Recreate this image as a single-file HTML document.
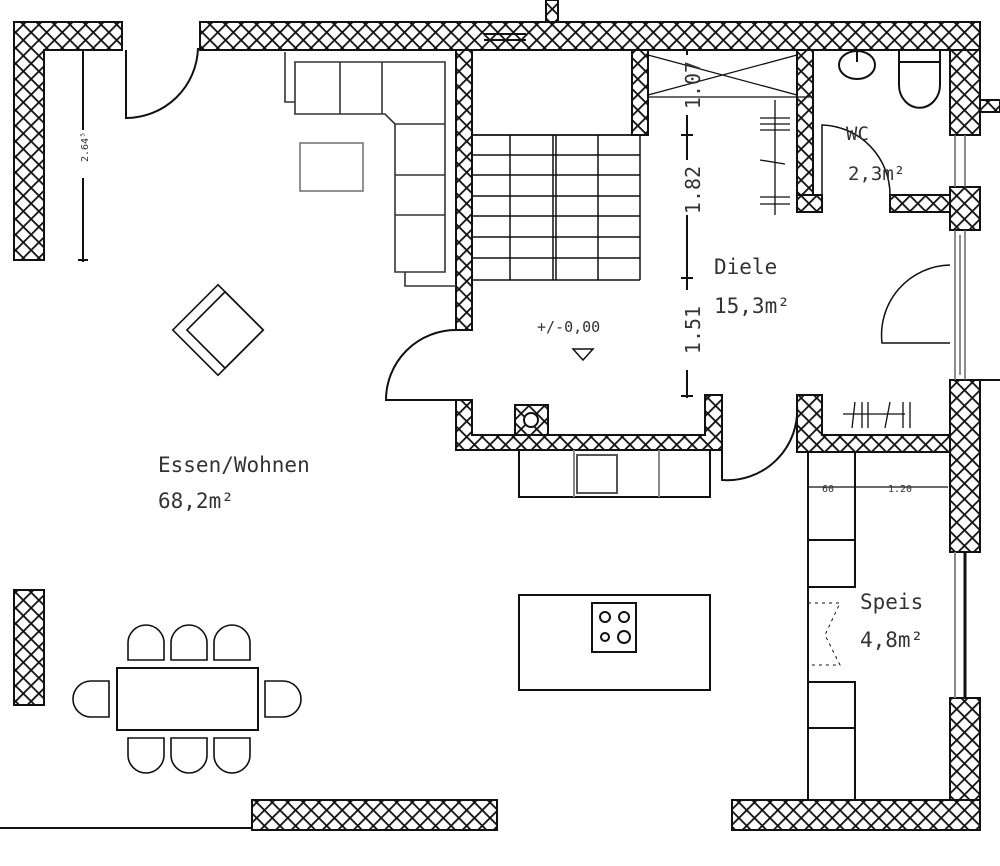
<!DOCTYPE html>
<html><head><meta charset="utf-8"><style>
html,body{margin:0;padding:0;background:#fff;}
svg{display:block}
text{font-family:"DejaVu Sans Mono","Liberation Mono",monospace;fill:#333}
</style></head><body>
<svg width="1000" height="866" viewBox="0 0 1000 866" xmlns="http://www.w3.org/2000/svg">
<defs>
<pattern id="h" width="11" height="11" patternUnits="userSpaceOnUse" patternTransform="rotate(45)">
<rect width="11" height="11" fill="#fff"/>
<rect x="0" y="0" width="1.8" height="11" fill="#111"/>
<rect x="0" y="0" width="11" height="1.8" fill="#111"/>
</pattern>
</defs>
<g fill="url(#h)" stroke="#111" stroke-width="2">
<path d="M14 22 H122 V50 H44 V260 H14 Z"/>
<rect x="200" y="22" width="780" height="28"/>
<rect x="546" y="0" width="12" height="22"/>
<rect x="456" y="50" width="16" height="280"/>
<rect x="632" y="50" width="16" height="85"/>
<rect x="797" y="50" width="16" height="162"/>
<rect x="797" y="195" width="25" height="17"/>
<rect x="890" y="195" width="60" height="17"/>
<rect x="950" y="50" width="30" height="85"/>
<rect x="950" y="187" width="30" height="43"/>
<rect x="950" y="380" width="30" height="172"/>
<rect x="950" y="698" width="30" height="132"/>
<rect x="980" y="100" width="20" height="12"/>
<path d="M456 400 H472 V435 H705 V395 H722 V450 H456 Z"/>
<rect x="515" y="405" width="33" height="30"/>
<path d="M797 395 H822 V435 H950 V452 H808 V452 H797 Z"/>
<rect x="252" y="800" width="245" height="30"/>
<rect x="732" y="800" width="248" height="30"/>
<rect x="14" y="590" width="30" height="115"/>
</g>
<circle cx="531" cy="420" r="7" fill="#fff" stroke="#111" stroke-width="2"/>
<g fill="none" stroke="#111" stroke-width="2">
<line x1="484" y1="34" x2="526" y2="34"/><line x1="484" y1="40" x2="526" y2="40"/>
<path d="M126 50 V118 A72 72 0 0 0 198 48"/>
<line x1="83" y1="50" x2="83" y2="130"/><line x1="83" y1="178" x2="83" y2="262"/>
<line x1="78" y1="260" x2="88" y2="260"/>
<g stroke="#333" stroke-width="1.6">
<path d="M285 52 V102 H295 V114 H385 L395 124 V272 H445 V62 H295 V102"/>
<line x1="340" y1="62" x2="340" y2="114"/><line x1="382" y1="62" x2="382" y2="114"/>
<line x1="395" y1="124" x2="445" y2="124"/><line x1="395" y1="175" x2="445" y2="175"/><line x1="395" y1="215" x2="445" y2="215"/>
<path d="M405 272 V286 H456"/>
<rect x="300" y="143" width="63" height="48" stroke="#777"/>
</g>
<g transform="translate(218 330) rotate(45)" stroke-width="1.6">
<rect x="-32" y="-32" width="64" height="64"/>
<rect x="-22" y="-32" width="54" height="54"/>
</g>
<rect x="472" y="50" width="160" height="85" stroke-width="1.5"/>
<g stroke-width="1.5">
<line x1="472" y1="135" x2="640" y2="135"/>
<line x1="472" y1="155" x2="640" y2="155"/><line x1="472" y1="175" x2="640" y2="175"/>
<line x1="472" y1="196" x2="640" y2="196"/><line x1="472" y1="216" x2="640" y2="216"/>
<line x1="472" y1="237" x2="640" y2="237"/><line x1="472" y1="258" x2="640" y2="258"/>
<line x1="472" y1="280" x2="640" y2="280"/>
<line x1="640" y1="135" x2="640" y2="280"/>
<line x1="510" y1="135" x2="510" y2="280"/>
<line x1="553" y1="135" x2="553" y2="280"/><line x1="556" y1="135" x2="556" y2="280"/>
<line x1="598" y1="135" x2="598" y2="280"/>
</g>
<path d="M456 330 A70 70 0 0 0 386 400 H456"/>
<g stroke-width="1.3">
<line x1="648" y1="55" x2="797" y2="95"/><line x1="648" y1="95" x2="797" y2="55"/>
<line x1="648" y1="97" x2="810" y2="97"/>
<line x1="775" y1="100" x2="775" y2="215"/>
<line x1="760" y1="118" x2="790" y2="118"/><line x1="760" y1="124" x2="790" y2="124"/><line x1="760" y1="130" x2="790" y2="130"/>
<line x1="760" y1="197" x2="790" y2="197"/><line x1="760" y1="204" x2="790" y2="204"/>
<line x1="760" y1="160" x2="785" y2="164"/>
</g>
<line x1="687" y1="50" x2="687" y2="55"/><line x1="687" y1="115" x2="687" y2="160"/>
<line x1="687" y1="215" x2="687" y2="290"/><line x1="687" y1="370" x2="687" y2="398"/>
<line x1="681" y1="135" x2="693" y2="135"/><line x1="681" y1="278" x2="693" y2="278"/><line x1="681" y1="396" x2="693" y2="396"/>
<ellipse cx="857" cy="65" rx="18" ry="14"/><line x1="857" y1="50" x2="857" y2="62"/>
<path d="M899 50 V85 A18 20 0 0 0 940 85 V50"/><line x1="899" y1="62" x2="940" y2="62"/>
<path d="M822 200 V125 A70 70 0 0 1 890 195" stroke-width="1.5"/>
<path d="M950 265 A70 70 0 0 0 882 343 H950" stroke-width="1.5"/>
<g stroke="#666" stroke-width="1.5">
<line x1="955" y1="135" x2="955" y2="187"/><line x1="965" y1="135" x2="965" y2="187"/>
<line x1="955" y1="230" x2="955" y2="380"/><line x1="965" y1="230" x2="965" y2="380"/><line x1="960" y1="235" x2="960" y2="375"/>
</g>
<line x1="980" y1="380" x2="1000" y2="380"/>
<path d="M722 405 V480 A70 70 0 0 0 797 405"/>
<g stroke-width="1.3">
<line x1="843" y1="414" x2="905" y2="414"/>
<line x1="855" y1="402" x2="852" y2="428"/><line x1="862" y1="402" x2="862" y2="428"/><line x1="868" y1="402" x2="868" y2="428"/>
<line x1="885" y1="428" x2="890" y2="402"/><line x1="903" y1="402" x2="903" y2="428"/><line x1="910" y1="402" x2="910" y2="428"/>
</g>
<rect x="519" y="450" width="191" height="47"/>
<rect x="577" y="455" width="40" height="38" stroke="#555"/>
<line x1="574" y1="450" x2="574" y2="497" stroke="#888"/><line x1="659" y1="450" x2="659" y2="497" stroke="#888"/>
<rect x="519" y="595" width="191" height="95"/>
<rect x="592" y="603" width="44" height="49"/>
<circle cx="605" cy="617" r="5"/><circle cx="624" cy="617" r="5"/>
<circle cx="605" cy="637" r="4"/><circle cx="624" cy="637" r="6"/>
<line x1="808" y1="452" x2="808" y2="800"/>
<path d="M808 452 H855 V587 H808"/>
<line x1="808" y1="540" x2="855" y2="540"/>
<path d="M808 682 H855 V800"/>
<line x1="808" y1="728" x2="855" y2="728"/>
<g stroke-width="1" stroke-dasharray="3 4">
<path d="M808 603 H840 L825 635 L840 665 H808"/>
</g>
<line x1="808" y1="487" x2="948" y2="487" stroke-width="1.2"/>
<line x1="965" y1="552" x2="965" y2="698" stroke-width="3"/>
<line x1="955" y1="552" x2="955" y2="698" stroke="#888"/>
<rect x="117" y="668" width="141" height="62"/>
<g stroke-width="1.6">
<path d="M128 660 V643 A18 18 0 0 1 164 643 V660 Z"/>
<path d="M171 660 V643 A18 18 0 0 1 207 643 V660 Z"/>
<path d="M214 660 V643 A18 18 0 0 1 250 643 V660 Z"/>
<path d="M128 738 V755 A18 18 0 0 0 164 755 V738 Z"/>
<path d="M171 738 V755 A18 18 0 0 0 207 755 V738 Z"/>
<path d="M214 738 V755 A18 18 0 0 0 250 755 V738 Z"/>
<path d="M109 681 H91 A18 18 0 0 0 91 717 H109 Z"/>
<path d="M265 681 H283 A18 18 0 0 1 283 717 H265 Z"/>
</g>
<line x1="0" y1="828" x2="252" y2="828"/>
<path d="M573 349 H593 L583 360 Z" stroke-width="1.5"/>
</g>
<text x="80" y="154" font-size="10" transform="rotate(-90 88 154)" fill="#111">2.64⁵</text>
<text x="700" y="85" font-size="20" transform="rotate(-90 700 85)" text-anchor="middle">1.07</text>
<text x="700" y="190" font-size="20" transform="rotate(-90 700 190)" text-anchor="middle">1.82</text>
<text x="700" y="330" font-size="20" transform="rotate(-90 700 330)" text-anchor="middle">1.51</text>
<text x="158" y="472" font-size="21">Essen/Wohnen</text>
<text x="158" y="508" font-size="21">68,2m²</text>
<text x="714" y="274" font-size="21">Diele</text>
<text x="714" y="313" font-size="21">15,3m²</text>
<text x="846" y="140" font-size="19">WC</text>
<text x="848" y="180" font-size="19">2,3m²</text>
<text x="860" y="609" font-size="21">Speis</text>
<text x="860" y="647" font-size="21">4,8m²</text>
<text x="537" y="332" font-size="15">+/-0,00</text>
<text x="822" y="492" font-size="10" fill="#444">60</text>
<text x="888" y="492" font-size="10" fill="#444">1.20</text>
</svg>
</body></html>
